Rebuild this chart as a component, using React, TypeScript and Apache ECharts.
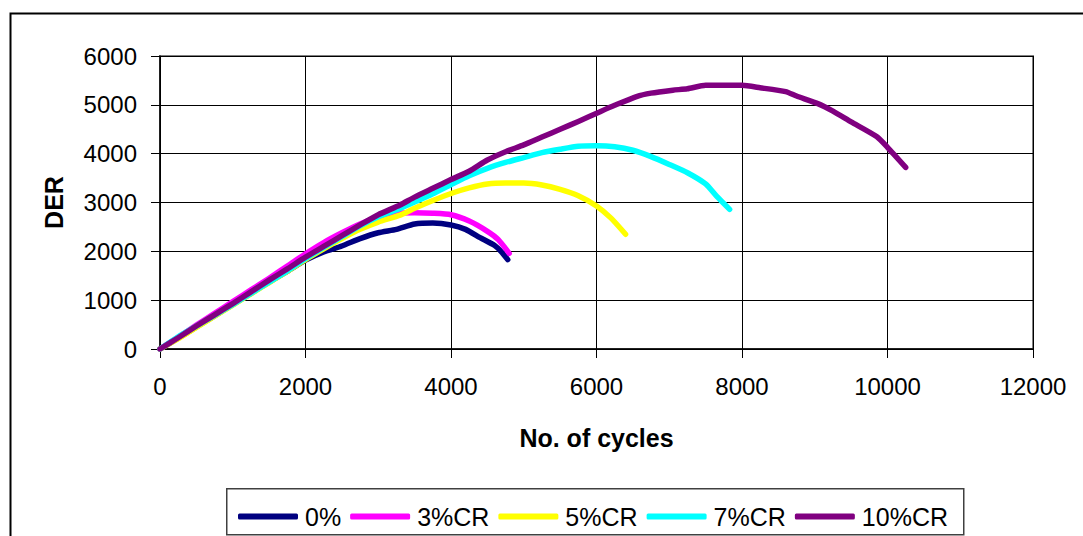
import React, { useEffect, useRef } from "react";
import * as echarts from "echarts";

// Damage energy ratio (DER) against number of loading cycles for each crumb-rubber content
const seriesNames = ["0%", "3%CR", "5%CR", "7%CR", "10%CR"];
const seriesColors = ["#000080", "#FF00FF", "#FFFF00", "#00FFFF", "#800080"];

const der0: [number, number][] = [
  [0, 0], [250, 220], [500, 450], [750, 680], [1000, 910], [1250, 1140], [1500, 1370],
  [1750, 1590], [2000, 1820], [2250, 1990], [2500, 2110], [2750, 2260], [3000, 2380],
  [3250, 2450], [3500, 2560], [3750, 2580], [4000, 2540], [4200, 2450], [4400, 2280],
  [4600, 2120], [4700, 1980], [4780, 1830],
];
const der3: [number, number][] = [
  [0, 0], [250, 240], [500, 490], [750, 730], [1000, 970], [1250, 1210], [1500, 1450],
  [1750, 1700], [2000, 1950], [2250, 2180], [2500, 2380], [2750, 2560], [3000, 2700],
  [3250, 2780], [3500, 2790], [3750, 2780], [4000, 2750], [4250, 2620], [4500, 2410],
  [4650, 2240], [4800, 1960],
];
const der5: [number, number][] = [
  [0, 0], [250, 210], [500, 440], [750, 670], [1000, 900], [1250, 1130], [1500, 1360],
  [1750, 1590], [2000, 1830], [2250, 2050], [2500, 2260], [2750, 2450], [3000, 2600],
  [3300, 2740], [3500, 2880], [3750, 3040], [4030, 3200], [4250, 3300], [4500, 3380],
  [4750, 3400], [5000, 3400], [5250, 3360], [5500, 3270], [5750, 3140], [6000, 2930],
  [6200, 2680], [6400, 2350],
];
const der7: [number, number][] = [
  [0, 0], [250, 250], [500, 470], [750, 690], [1000, 910], [1250, 1140], [1500, 1370],
  [1750, 1600], [2000, 1850], [2250, 2080], [2500, 2300], [2750, 2520], [3000, 2710],
  [3300, 2880], [3500, 3010], [3750, 3180], [4030, 3390], [4250, 3550], [4500, 3700],
  [4750, 3820], [5000, 3920], [5250, 4020], [5500, 4090], [5750, 4150], [6000, 4160],
  [6250, 4140], [6500, 4070], [6750, 3940], [7000, 3780], [7250, 3610], [7500, 3380],
  [7650, 3130], [7830, 2860],
];
const der10: [number, number][] = [
  [0, 0], [250, 230], [500, 470], [750, 700], [1000, 930], [1250, 1170], [1500, 1410],
  [1750, 1640], [2000, 1880], [2250, 2100], [2500, 2320], [2750, 2540], [3000, 2750],
  [3300, 2950], [3500, 3110], [3750, 3290], [4000, 3470], [4250, 3640], [4500, 3870],
  [4750, 4040], [5000, 4180], [5250, 4340], [5500, 4500], [5750, 4660], [6050, 4860],
  [6250, 4990], [6550, 5170], [6750, 5240], [7050, 5300], [7250, 5330], [7500, 5400],
  [7750, 5400], [8000, 5400], [8250, 5350], [8600, 5270], [8750, 5180], [9050, 5020],
  [9250, 4870], [9500, 4650], [9850, 4350], [10000, 4130], [10250, 3720],
];
const seriesData = [der0, der3, der5, der7, der10];

const xTicks = [0, 2000, 4000, 6000, 8000, 10000, 12000];
const yTicks = [0, 1000, 2000, 3000, 4000, 5000, 6000];

const FONT = "'Liberation Sans', Arial, sans-serif";

export default function App() {
  const ref = useRef<HTMLDivElement>(null);

  useEffect(() => {
    document.body.style.margin = "0";
    if (!ref.current) return;
    const chart = echarts.init(ref.current, undefined, { renderer: "svg" });

    chart.setOption({
      animation: false,
      backgroundColor: "#ffffff",
      textStyle: { fontFamily: FONT, color: "#000" },
      graphic: [
        {
          type: "rect",
          left: 8,
          top: 11,
          shape: { width: 1200, height: 700 },
          style: { fill: "none", stroke: "#000", lineWidth: 2 },
          silent: true,
        },
        {
          type: "rect",
          left: 226,
          top: 488,
          shape: { width: 737, height: 46 },
          style: { fill: "#fff", stroke: "#404040", lineWidth: 1.5 },
          silent: true,
          z: 0,
        },
      ],
      grid: {
        left: 160,
        top: 56,
        right: 50,
        bottom: 187,
        show: true,
        borderColor: "#808080",
        borderWidth: 2,
      },
      legend: {
        data: seriesNames.map((n) => ({ name: n, icon: "roundRect" })),
        left: 233,
        top: 499,
        itemWidth: 60,
        itemHeight: 6,
        itemGap: 9,
        textStyle: { fontSize: 25, fontFamily: FONT, color: "#000", padding: [0, 0, 0, 2] },
        z: 5,
      },
      xAxis: {
        type: "value",
        min: xTicks[0],
        max: xTicks[xTicks.length - 1],
        interval: 2000,
        name: "No. of cycles",
        nameLocation: "middle",
        nameGap: 76,
        nameTextStyle: { fontSize: 25, fontWeight: "bold", fontFamily: FONT, color: "#000" },
        axisLine: { show: true, lineStyle: { color: "#000", width: 1.5 } },
        axisTick: { show: true, length: 9, lineStyle: { color: "#000" } },
        axisLabel: {
          fontSize: 24,
          margin: 25,
          color: "#000",
          fontFamily: FONT,
          formatter: (v: number) => String(v),
        },
        splitLine: { show: true, lineStyle: { color: "#000", width: 1 } },
      },
      yAxis: {
        type: "value",
        min: yTicks[0],
        max: yTicks[yTicks.length - 1],
        interval: 1000,
        name: "DER",
        nameLocation: "middle",
        nameRotate: 90,
        nameGap: 94,
        nameTextStyle: { fontSize: 25, fontWeight: "bold", fontFamily: FONT, color: "#000" },
        axisLine: { show: true, lineStyle: { color: "#000", width: 1.5 } },
        axisTick: { show: true, length: 9, lineStyle: { color: "#000" } },
        axisLabel: {
          fontSize: 24,
          margin: 23,
          color: "#000",
          fontFamily: FONT,
          formatter: (v: number) => String(v),
        },
        splitLine: { show: true, lineStyle: { color: "#000", width: 1 } },
      },
      series: seriesNames.map((name, i) => ({
        name,
        type: "line",
        data: seriesData[i],
        showSymbol: false,
        symbol: "none",
        smooth: 0.2,
        color: seriesColors[i],
        lineStyle: { color: seriesColors[i], width: 5.5, cap: "round", join: "round" },
        z: 2 + i,
      })),
    });

    return () => chart.dispose();
  }, []);

  return <div ref={ref} style={{ width: 1083, height: 536 }} />;
}
